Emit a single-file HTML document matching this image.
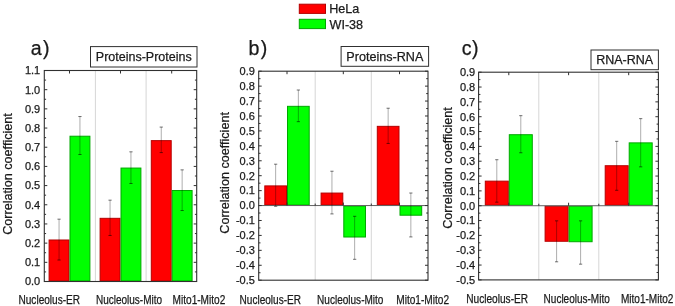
<!DOCTYPE html>
<html><head><meta charset="utf-8"><style>
html,body{margin:0;padding:0;background:#fff;width:675px;height:306px;overflow:hidden}
svg{will-change:transform}
svg text{font-family:"Liberation Sans", sans-serif;fill:#1a1a1a;stroke:#1a1a1a;stroke-width:0.25px}
</style></head><body>
<svg width="675" height="306" viewBox="0 0 675 306" style="display:block">
<rect x="0" y="0" width="675" height="306" fill="#fff"/>
<line x1="95.4" y1="70.5" x2="95.4" y2="281.5" stroke="#d6d6d6" stroke-width="1"/>
<line x1="146.1" y1="70.5" x2="146.1" y2="281.5" stroke="#d6d6d6" stroke-width="1"/>
<rect x="49.1" y="239.99" width="19.9" height="41.01" fill="#ff0000" stroke="#b40000" stroke-width="1"/>
<rect x="70" y="136.22" width="19.9" height="144.78" fill="#00ff00" stroke="#00a800" stroke-width="1"/>
<rect x="100.1" y="218.32" width="19.9" height="62.68" fill="#ff0000" stroke="#b40000" stroke-width="1"/>
<rect x="121" y="168.06" width="19.9" height="112.94" fill="#00ff00" stroke="#00a800" stroke-width="1"/>
<rect x="151.3" y="140.63" width="19.9" height="140.37" fill="#ff0000" stroke="#b40000" stroke-width="1"/>
<rect x="172.2" y="190.5" width="19.9" height="90.5" fill="#00ff00" stroke="#00a800" stroke-width="1"/>
<path d="M59.05 219.16V260.02" stroke="#000" stroke-opacity="0.32" stroke-width="1" fill="none"/>
<path d="M57.45 219.16H60.65M57.45 260.02H60.65" stroke="#000" stroke-opacity="0.55" stroke-width="1" fill="none"/>
<path d="M79.95 116.54V154.52" stroke="#000" stroke-opacity="0.32" stroke-width="1" fill="none"/>
<path d="M78.35 116.54H81.55M78.35 154.52H81.55" stroke="#000" stroke-opacity="0.55" stroke-width="1" fill="none"/>
<path d="M110.05 200.17V235.46" stroke="#000" stroke-opacity="0.32" stroke-width="1" fill="none"/>
<path d="M108.45 200.17H111.65M108.45 235.46H111.65" stroke="#000" stroke-opacity="0.55" stroke-width="1" fill="none"/>
<path d="M130.95 151.83V183.48" stroke="#000" stroke-opacity="0.32" stroke-width="1" fill="none"/>
<path d="M129.35 151.83H132.55M129.35 183.48H132.55" stroke="#000" stroke-opacity="0.55" stroke-width="1" fill="none"/>
<path d="M161.25 127.09V152.6" stroke="#000" stroke-opacity="0.32" stroke-width="1" fill="none"/>
<path d="M159.65 127.09H162.85M159.65 152.6H162.85" stroke="#000" stroke-opacity="0.55" stroke-width="1" fill="none"/>
<path d="M182.15 169.86V210.53" stroke="#000" stroke-opacity="0.32" stroke-width="1" fill="none"/>
<path d="M180.55 169.86H183.75M180.55 210.53H183.75" stroke="#000" stroke-opacity="0.55" stroke-width="1" fill="none"/>
<rect x="44.3" y="70.5" width="152.4" height="211" fill="none" stroke="#303030" stroke-width="1.1"/>
<path d="M44.3 281.5h3M196.7 281.5h-3M44.3 271.91h1.8M196.7 271.91h-1.8M44.3 262.32h3M196.7 262.32h-3M44.3 252.73h1.8M196.7 252.73h-1.8M44.3 243.14h3M196.7 243.14h-3M44.3 233.55h1.8M196.7 233.55h-1.8M44.3 223.95h3M196.7 223.95h-3M44.3 214.36h1.8M196.7 214.36h-1.8M44.3 204.77h3M196.7 204.77h-3M44.3 195.18h1.8M196.7 195.18h-1.8M44.3 185.59h3M196.7 185.59h-3M44.3 176h1.8M196.7 176h-1.8M44.3 166.41h3M196.7 166.41h-3M44.3 156.82h1.8M196.7 156.82h-1.8M44.3 147.23h3M196.7 147.23h-3M44.3 137.64h1.8M196.7 137.64h-1.8M44.3 128.05h3M196.7 128.05h-3M44.3 118.45h1.8M196.7 118.45h-1.8M44.3 108.86h3M196.7 108.86h-3M44.3 99.27h1.8M196.7 99.27h-1.8M44.3 89.68h3M196.7 89.68h-3M44.3 80.09h1.8M196.7 80.09h-1.8M44.3 70.5h3M196.7 70.5h-3M69.5 70.5v3M120.5 70.5v3M171.7 70.5v3" stroke="#303030" stroke-width="1" fill="none"/>
<text x="40.2" y="285.35" font-size="11" text-anchor="end">0.0</text>
<text x="40.2" y="266.17" font-size="11" text-anchor="end">0.1</text>
<text x="40.2" y="246.99" font-size="11" text-anchor="end">0.2</text>
<text x="40.2" y="227.8" font-size="11" text-anchor="end">0.3</text>
<text x="40.2" y="208.62" font-size="11" text-anchor="end">0.4</text>
<text x="40.2" y="189.44" font-size="11" text-anchor="end">0.5</text>
<text x="40.2" y="170.26" font-size="11" text-anchor="end">0.6</text>
<text x="40.2" y="151.08" font-size="11" text-anchor="end">0.7</text>
<text x="40.2" y="131.9" font-size="11" text-anchor="end">0.8</text>
<text x="40.2" y="112.71" font-size="11" text-anchor="end">0.9</text>
<text x="40.2" y="93.53" font-size="11" text-anchor="end">1.0</text>
<text x="40.2" y="74.35" font-size="11" text-anchor="end">1.1</text>
<rect x="90.5" y="46.6" width="106.5" height="20.4" fill="#fff" stroke="#303030" stroke-width="1"/>
<text x="143.75" y="61.3" font-size="12.5" text-anchor="middle">Proteins-Proteins</text>
<text x="30.8" y="54.9" font-size="19.6">a<tspan dx="1.2">)</tspan></text>
<text x="0" y="0" font-size="12.6" text-anchor="middle" transform="translate(11.6 174) rotate(-90)">Correlation coefficient</text>
<text x="18.49" y="303.5" font-size="12.3" textLength="61.64" lengthAdjust="spacingAndGlyphs">Nucleolus-ER</text>
<text x="96" y="303.5" font-size="12.3" textLength="66.03" lengthAdjust="spacingAndGlyphs">Nucleolus-Mito</text>
<text x="172.59" y="303.5" font-size="12.3" textLength="52.74" lengthAdjust="spacingAndGlyphs">Mito1-Mito2</text>
<line x1="315.2" y1="71.2" x2="315.2" y2="280.2" stroke="#d6d6d6" stroke-width="1"/>
<line x1="371.3" y1="71.2" x2="371.3" y2="280.2" stroke="#d6d6d6" stroke-width="1"/>
<rect x="264.8" y="185.9" width="21.7" height="19.15" fill="#ff0000" stroke="#b40000" stroke-width="1"/>
<rect x="287.5" y="106.33" width="21.7" height="98.72" fill="#00ff00" stroke="#00a800" stroke-width="1"/>
<rect x="321.1" y="193.07" width="21.7" height="11.99" fill="#ff0000" stroke="#b40000" stroke-width="1"/>
<rect x="343.8" y="206.06" width="21.7" height="30.95" fill="#00ff00" stroke="#00a800" stroke-width="1"/>
<rect x="377.3" y="126.34" width="21.7" height="78.72" fill="#ff0000" stroke="#b40000" stroke-width="1"/>
<rect x="400" y="206.06" width="21.7" height="9.15" fill="#00ff00" stroke="#00a800" stroke-width="1"/>
<line x1="258.7" y1="205.56" x2="428" y2="205.56" stroke="#606060" stroke-width="1"/>
<line x1="287" y1="205.56" x2="287" y2="202.56" stroke="#303030" stroke-width="1"/>
<line x1="343.3" y1="205.56" x2="343.3" y2="202.56" stroke="#303030" stroke-width="1"/>
<line x1="399.5" y1="205.56" x2="399.5" y2="202.56" stroke="#303030" stroke-width="1"/>
<line x1="315.2" y1="205.56" x2="315.2" y2="203.56" stroke="#303030" stroke-width="1"/>
<line x1="371.3" y1="205.56" x2="371.3" y2="203.56" stroke="#303030" stroke-width="1"/>
<path d="M275.65 164.2V206.3" stroke="#000" stroke-opacity="0.32" stroke-width="1" fill="none"/>
<path d="M274.05 164.2H277.25M274.05 206.3H277.25" stroke="#000" stroke-opacity="0.55" stroke-width="1" fill="none"/>
<path d="M298.35 90.01V121.66" stroke="#000" stroke-opacity="0.32" stroke-width="1" fill="none"/>
<path d="M296.75 90.01H299.95M296.75 121.66H299.95" stroke="#000" stroke-opacity="0.55" stroke-width="1" fill="none"/>
<path d="M331.95 171.22V213.92" stroke="#000" stroke-opacity="0.32" stroke-width="1" fill="none"/>
<path d="M330.35 171.22H333.55M330.35 213.92H333.55" stroke="#000" stroke-opacity="0.55" stroke-width="1" fill="none"/>
<path d="M354.65 216.31V259.3" stroke="#000" stroke-opacity="0.32" stroke-width="1" fill="none"/>
<path d="M353.05 216.31H356.25M353.05 259.3H356.25" stroke="#000" stroke-opacity="0.55" stroke-width="1" fill="none"/>
<path d="M388.15 108.22V143.45" stroke="#000" stroke-opacity="0.32" stroke-width="1" fill="none"/>
<path d="M386.55 108.22H389.75M386.55 143.45H389.75" stroke="#000" stroke-opacity="0.55" stroke-width="1" fill="none"/>
<path d="M410.85 193.02V236.91" stroke="#000" stroke-opacity="0.32" stroke-width="1" fill="none"/>
<path d="M409.25 193.02H412.45M409.25 236.91H412.45" stroke="#000" stroke-opacity="0.55" stroke-width="1" fill="none"/>
<rect x="258.7" y="71.2" width="169.3" height="209" fill="none" stroke="#303030" stroke-width="1.1"/>
<path d="M258.7 280.2h3M428 280.2h-3M258.7 272.74h1.8M428 272.74h-1.8M258.7 265.27h3M428 265.27h-3M258.7 257.81h1.8M428 257.81h-1.8M258.7 250.34h3M428 250.34h-3M258.7 242.88h1.8M428 242.88h-1.8M258.7 235.41h3M428 235.41h-3M258.7 227.95h1.8M428 227.95h-1.8M258.7 220.49h3M428 220.49h-3M258.7 213.02h1.8M428 213.02h-1.8M258.7 205.56h3M428 205.56h-3M258.7 198.09h1.8M428 198.09h-1.8M258.7 190.63h3M428 190.63h-3M258.7 183.16h1.8M428 183.16h-1.8M258.7 175.7h3M428 175.7h-3M258.7 168.24h1.8M428 168.24h-1.8M258.7 160.77h3M428 160.77h-3M258.7 153.31h1.8M428 153.31h-1.8M258.7 145.84h3M428 145.84h-3M258.7 138.38h1.8M428 138.38h-1.8M258.7 130.91h3M428 130.91h-3M258.7 123.45h1.8M428 123.45h-1.8M258.7 115.99h3M428 115.99h-3M258.7 108.52h1.8M428 108.52h-1.8M258.7 101.06h3M428 101.06h-3M258.7 93.59h1.8M428 93.59h-1.8M258.7 86.13h3M428 86.13h-3M258.7 78.66h1.8M428 78.66h-1.8M258.7 71.2h3M428 71.2h-3M287 71.2v3M343.3 71.2v3M399.5 71.2v3" stroke="#303030" stroke-width="1" fill="none"/>
<text x="254.9" y="284.05" font-size="11" text-anchor="end">-0.5</text>
<text x="254.9" y="269.12" font-size="11" text-anchor="end">-0.4</text>
<text x="254.9" y="254.19" font-size="11" text-anchor="end">-0.3</text>
<text x="254.9" y="239.26" font-size="11" text-anchor="end">-0.2</text>
<text x="254.9" y="224.34" font-size="11" text-anchor="end">-0.1</text>
<text x="254.9" y="209.41" font-size="11" text-anchor="end">0.0</text>
<text x="254.9" y="194.48" font-size="11" text-anchor="end">0.1</text>
<text x="254.9" y="179.55" font-size="11" text-anchor="end">0.2</text>
<text x="254.9" y="164.62" font-size="11" text-anchor="end">0.3</text>
<text x="254.9" y="149.69" font-size="11" text-anchor="end">0.4</text>
<text x="254.9" y="134.76" font-size="11" text-anchor="end">0.5</text>
<text x="254.9" y="119.84" font-size="11" text-anchor="end">0.6</text>
<text x="254.9" y="104.91" font-size="11" text-anchor="end">0.7</text>
<text x="254.9" y="89.98" font-size="11" text-anchor="end">0.8</text>
<text x="254.9" y="75.05" font-size="11" text-anchor="end">0.9</text>
<rect x="341.1" y="46.5" width="87.5" height="19.8" fill="#fff" stroke="#303030" stroke-width="1"/>
<text x="384.85" y="60.94" font-size="12.6" text-anchor="middle">Proteins-RNA</text>
<text x="248.5" y="55.2" font-size="19.6">b<tspan dx="1.3">)</tspan></text>
<text x="0" y="0" font-size="12.6" text-anchor="middle" transform="translate(228.8 172.9) rotate(-90)">Correlation coefficient</text>
<text x="239.6" y="303.5" font-size="12.3" textLength="61.44" lengthAdjust="spacingAndGlyphs">Nucleolus-ER</text>
<text x="317.1" y="303.5" font-size="12.3" textLength="66.33" lengthAdjust="spacingAndGlyphs">Nucleolus-Mito</text>
<text x="396.29" y="303.5" font-size="12.3" textLength="52.74" lengthAdjust="spacingAndGlyphs">Mito1-Mito2</text>
<line x1="538.8" y1="72.2" x2="538.8" y2="279.9" stroke="#d6d6d6" stroke-width="1"/>
<line x1="598.8" y1="72.2" x2="598.8" y2="279.9" stroke="#d6d6d6" stroke-width="1"/>
<rect x="485.3" y="181.15" width="23" height="24.07" fill="#ff0000" stroke="#b40000" stroke-width="1"/>
<rect x="509.3" y="134.71" width="23" height="70.51" fill="#00ff00" stroke="#00a800" stroke-width="1"/>
<rect x="545.1" y="206.22" width="23" height="35.05" fill="#ff0000" stroke="#b40000" stroke-width="1"/>
<rect x="569.1" y="206.22" width="23" height="35.5" fill="#00ff00" stroke="#00a800" stroke-width="1"/>
<rect x="605.2" y="165.72" width="23" height="39.5" fill="#ff0000" stroke="#b40000" stroke-width="1"/>
<rect x="629.2" y="142.87" width="23" height="62.35" fill="#00ff00" stroke="#00a800" stroke-width="1"/>
<line x1="478.6" y1="205.72" x2="658.4" y2="205.72" stroke="#606060" stroke-width="1"/>
<line x1="508.8" y1="205.72" x2="508.8" y2="202.72" stroke="#303030" stroke-width="1"/>
<line x1="568.6" y1="205.72" x2="568.6" y2="202.72" stroke="#303030" stroke-width="1"/>
<line x1="628.7" y1="205.72" x2="628.7" y2="202.72" stroke="#303030" stroke-width="1"/>
<line x1="538.8" y1="205.72" x2="538.8" y2="203.72" stroke="#303030" stroke-width="1"/>
<line x1="598.8" y1="205.72" x2="598.8" y2="203.72" stroke="#303030" stroke-width="1"/>
<path d="M496.8 159.73V202.16" stroke="#000" stroke-opacity="0.32" stroke-width="1" fill="none"/>
<path d="M495.2 159.73H498.4M495.2 202.16H498.4" stroke="#000" stroke-opacity="0.55" stroke-width="1" fill="none"/>
<path d="M520.8 115.67V152.76" stroke="#000" stroke-opacity="0.32" stroke-width="1" fill="none"/>
<path d="M519.2 115.67H522.4M519.2 152.76H522.4" stroke="#000" stroke-opacity="0.55" stroke-width="1" fill="none"/>
<path d="M556.6 220.85V261.8" stroke="#000" stroke-opacity="0.32" stroke-width="1" fill="none"/>
<path d="M555 220.85H558.2M555 261.8H558.2" stroke="#000" stroke-opacity="0.55" stroke-width="1" fill="none"/>
<path d="M580.6 220.85V264.17" stroke="#000" stroke-opacity="0.32" stroke-width="1" fill="none"/>
<path d="M579 220.85H582.2M579 264.17H582.2" stroke="#000" stroke-opacity="0.55" stroke-width="1" fill="none"/>
<path d="M616.7 141.33V190.29" stroke="#000" stroke-opacity="0.32" stroke-width="1" fill="none"/>
<path d="M615.1 141.33H618.3M615.1 190.29H618.3" stroke="#000" stroke-opacity="0.55" stroke-width="1" fill="none"/>
<path d="M640.7 118.64V166.85" stroke="#000" stroke-opacity="0.32" stroke-width="1" fill="none"/>
<path d="M639.1 118.64H642.3M639.1 166.85H642.3" stroke="#000" stroke-opacity="0.55" stroke-width="1" fill="none"/>
<rect x="478.6" y="72.2" width="179.8" height="207.7" fill="none" stroke="#303030" stroke-width="1.1"/>
<path d="M478.6 279.9h3M658.4 279.9h-3M478.6 272.48h1.8M658.4 272.48h-1.8M478.6 265.06h3M658.4 265.06h-3M478.6 257.65h1.8M658.4 257.65h-1.8M478.6 250.23h3M658.4 250.23h-3M478.6 242.81h1.8M658.4 242.81h-1.8M478.6 235.39h3M658.4 235.39h-3M478.6 227.97h1.8M658.4 227.97h-1.8M478.6 220.56h3M658.4 220.56h-3M478.6 213.14h1.8M658.4 213.14h-1.8M478.6 205.72h3M658.4 205.72h-3M478.6 198.3h1.8M658.4 198.3h-1.8M478.6 190.89h3M658.4 190.89h-3M478.6 183.47h1.8M658.4 183.47h-1.8M478.6 176.05h3M658.4 176.05h-3M478.6 168.63h1.8M658.4 168.63h-1.8M478.6 161.21h3M658.4 161.21h-3M478.6 153.8h1.8M658.4 153.8h-1.8M478.6 146.38h3M658.4 146.38h-3M478.6 138.96h1.8M658.4 138.96h-1.8M478.6 131.54h3M658.4 131.54h-3M478.6 124.12h1.8M658.4 124.12h-1.8M478.6 116.71h3M658.4 116.71h-3M478.6 109.29h1.8M658.4 109.29h-1.8M478.6 101.87h3M658.4 101.87h-3M478.6 94.45h1.8M658.4 94.45h-1.8M478.6 87.04h3M658.4 87.04h-3M478.6 79.62h1.8M658.4 79.62h-1.8M478.6 72.2h3M658.4 72.2h-3M508.8 72.2v3M568.6 72.2v3M628.7 72.2v3" stroke="#303030" stroke-width="1" fill="none"/>
<text x="475.2" y="283.75" font-size="11" text-anchor="end">-0.5</text>
<text x="475.2" y="268.91" font-size="11" text-anchor="end">-0.4</text>
<text x="475.2" y="254.08" font-size="11" text-anchor="end">-0.3</text>
<text x="475.2" y="239.24" font-size="11" text-anchor="end">-0.2</text>
<text x="475.2" y="224.41" font-size="11" text-anchor="end">-0.1</text>
<text x="475.2" y="209.57" font-size="11" text-anchor="end">0.0</text>
<text x="475.2" y="194.74" font-size="11" text-anchor="end">0.1</text>
<text x="475.2" y="179.9" font-size="11" text-anchor="end">0.2</text>
<text x="475.2" y="165.06" font-size="11" text-anchor="end">0.3</text>
<text x="475.2" y="150.23" font-size="11" text-anchor="end">0.4</text>
<text x="475.2" y="135.39" font-size="11" text-anchor="end">0.5</text>
<text x="475.2" y="120.56" font-size="11" text-anchor="end">0.6</text>
<text x="475.2" y="105.72" font-size="11" text-anchor="end">0.7</text>
<text x="475.2" y="90.89" font-size="11" text-anchor="end">0.8</text>
<text x="475.2" y="76.05" font-size="11" text-anchor="end">0.9</text>
<rect x="591" y="50" width="67.4" height="19.7" fill="#fff" stroke="#303030" stroke-width="1"/>
<text x="624.7" y="64.35" font-size="12.5" text-anchor="middle">RNA-RNA</text>
<text x="461.7" y="55" font-size="19.6">c<tspan dx="0.6">)</tspan></text>
<text x="0" y="0" font-size="12.6" text-anchor="middle" transform="translate(451.8 167.95) rotate(-90)">Correlation coefficient</text>
<text x="466.19" y="302.8" font-size="12.3" textLength="61.95" lengthAdjust="spacingAndGlyphs">Nucleolus-ER</text>
<text x="543.6" y="302.8" font-size="12.3" textLength="66.13" lengthAdjust="spacingAndGlyphs">Nucleolus-Mito</text>
<text x="620.9" y="302.8" font-size="12.3" textLength="52.54" lengthAdjust="spacingAndGlyphs">Mito1-Mito2</text>
<rect x="299.3" y="4.2" width="26.2" height="9.2" fill="#ff0000" stroke="#b40000" stroke-width="1"/>
<rect x="299.3" y="19.3" width="26.2" height="9.3" fill="#00ff00" stroke="#00a800" stroke-width="1"/>
<text x="329.2" y="12.8" font-size="12.6">HeLa</text>
<text x="329.5" y="28.5" font-size="12.6">WI-38</text>
</svg>
</body></html>
